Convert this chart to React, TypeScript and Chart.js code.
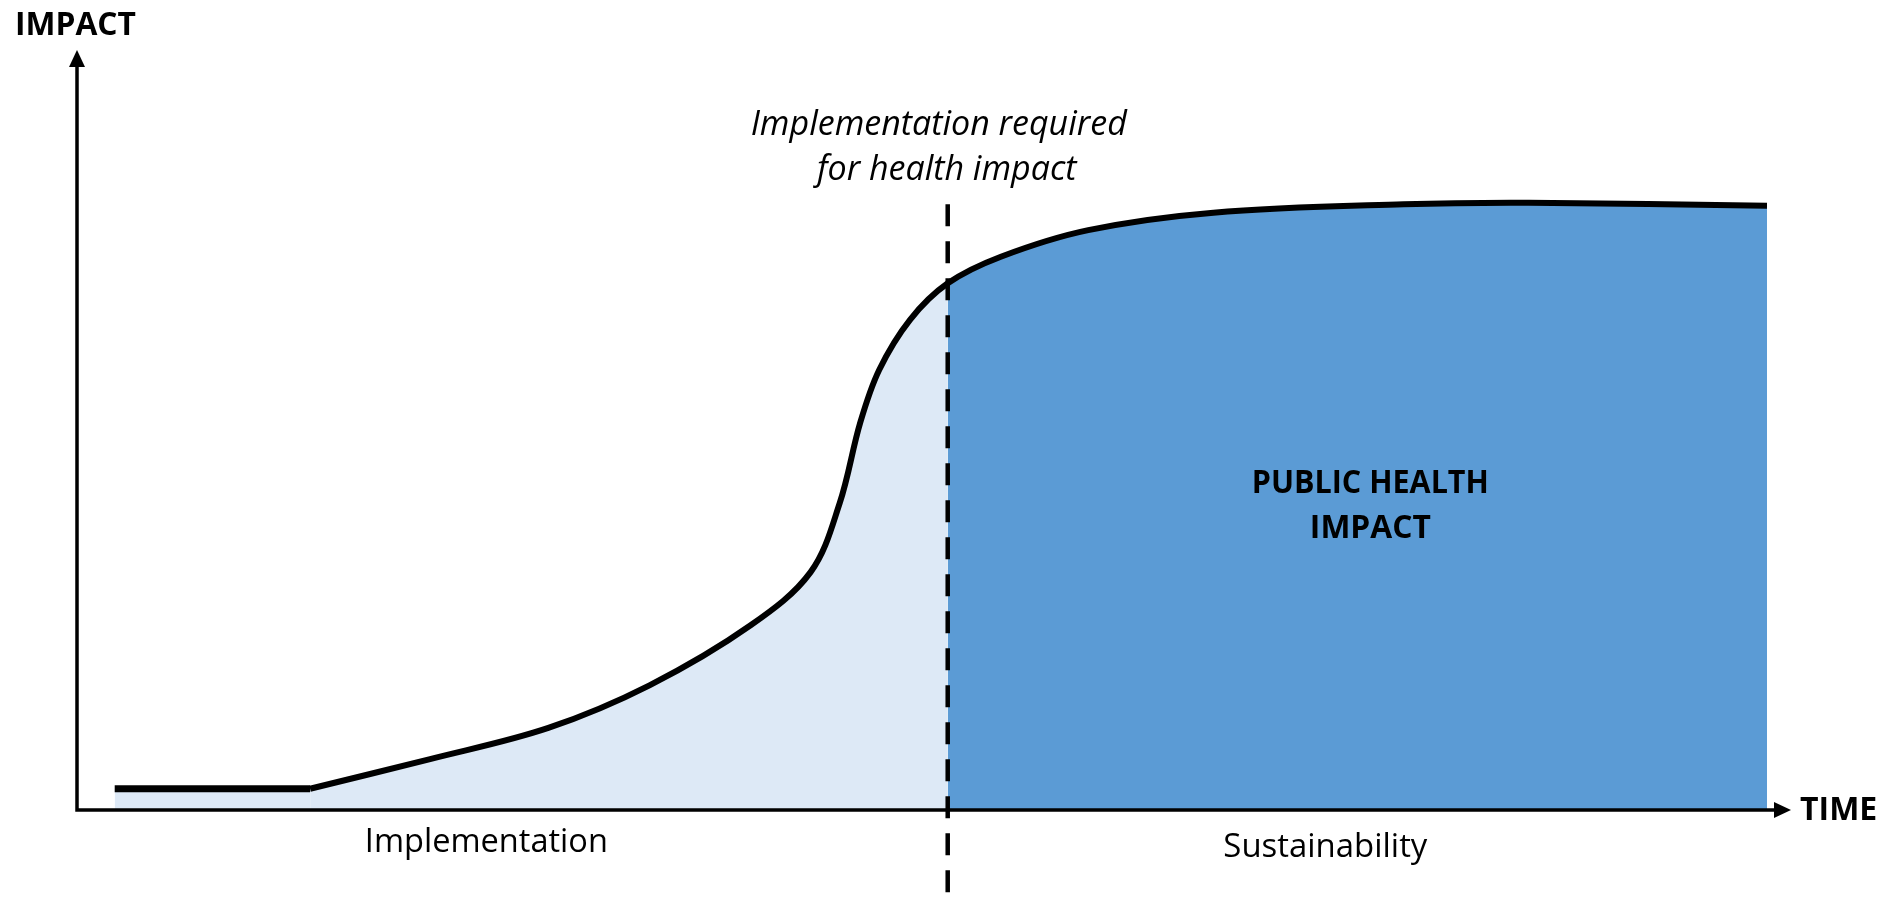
import React, { useEffect, useRef } from "react";
import { Chart, registerables } from "chart.js";

Chart.register(...registerables);

// Conceptual time axis (0-100) and impact axis (0-100)
const flatTime = [2.2, 13.6];
const flatImpact = [2.8, 2.8];

const curveTime = [13.6, 20.6, 27.5, 33.4, 39.3, 42.8, 44.5, 45.7, 46.8, 48.6, 50.8, 53.9, 59.0, 66.3, 77.4, 84.7, 98.6];
const curveImpact = [2.8, 6.7, 10.8, 16.4, 24.3, 31.3, 40.4, 51.0, 57.9, 64.5, 69.3, 72.8, 76.3, 78.6, 79.7, 79.9, 79.5];

const implementationEnd = 50.8; // time where sustainability begins
const dashedTop = 79.7; // impact value where dashed marker starts

const LIGHT = "#DDE9F6";
const DARK = "#5B9BD5";

const FONT = '"Open Sans", "DejaVu Sans", sans-serif';

export default function App() {
  const ref = useRef<HTMLCanvasElement | null>(null);

  useEffect(() => {
    document.body.style.margin = "0";
    const canvas = ref.current;
    if (!canvas) return;

    const overlay = {
      id: "overlay",
      beforeDatasetsDraw(chart: any) {
        const { ctx } = chart;
        const xs = chart.scales.x;
        const ys = chart.scales.y;
        const x = xs.getPixelForValue(implementationEnd);
        ctx.save();
        ctx.strokeStyle = "#000";
        ctx.lineWidth = 4.5;
        ctx.setLineDash([22, 15]);
        ctx.beginPath();
        ctx.moveTo(x, ys.getPixelForValue(dashedTop));
        ctx.lineTo(x, chart.height);
        ctx.stroke();
        ctx.restore();
      },
      afterDatasetsDraw(chart: any) {
        const { ctx, chartArea } = chart;
        const { left, right, top, bottom } = chartArea;
        const xs = chart.scales.x;
        ctx.save();
        // axes
        ctx.strokeStyle = "#000";
        ctx.fillStyle = "#000";
        ctx.lineWidth = 3.5;
        ctx.beginPath();
        ctx.moveTo(left, bottom + 1.75);
        ctx.lineTo(left, top + 14);
        ctx.moveTo(left - 1.75, bottom);
        ctx.lineTo(right - 14, bottom);
        ctx.stroke();
        // arrowheads
        ctx.beginPath();
        ctx.moveTo(left, top);
        ctx.lineTo(left - 8, top + 17);
        ctx.lineTo(left + 8, top + 17);
        ctx.closePath();
        ctx.fill();
        ctx.beginPath();
        ctx.moveTo(right, bottom);
        ctx.lineTo(right - 17, bottom - 8);
        ctx.lineTo(right - 17, bottom + 8);
        ctx.closePath();
        ctx.fill();

        // texts
        ctx.textBaseline = "alphabetic";
        ctx.fillStyle = "#000";

        ctx.font = `bold 32px ${FONT}`;
        ctx.textAlign = "left";
        ctx.fillText("IMPACT", 15, 35, 121);
        ctx.fillText("TIME", right + 9, bottom + 10, 78);

        const xm = xs.getPixelForValue(implementationEnd);
        ctx.font = `italic 34px ${FONT}`;
        ctx.textAlign = "center";
        ctx.fillText("Implementation required", xm - 9, 135, 380);
        ctx.fillText("for health impact", xm - 1, 180, 268);

        const sustCenter = (xm + xs.getPixelForValue(98.6)) / 2;
        ctx.font = `bold 32px ${FONT}`;
        ctx.fillText("PUBLIC HEALTH", sustCenter + 13, 493, 237);
        ctx.fillText("IMPACT", sustCenter + 13, 538, 121);

        ctx.font = `33px ${FONT}`;
        ctx.fillText("Implementation", (left + xm) / 2 - 26, bottom + 42, 243);
        ctx.fillText("Sustainability", sustCenter - 32, bottom + 47, 204);
        ctx.restore();
      },
    };

    const chart = new Chart(canvas, {
      type: "line",
      data: {
        datasets: [
          {
            label: "Implementation (flat)",
            data: flatTime.map((t, i) => ({ x: t, y: flatImpact[i] })),
            borderColor: "#000",
            borderWidth: 7,
            borderCapStyle: "butt",
            backgroundColor: LIGHT,
            fill: "origin",
            tension: 0,
            pointRadius: 0,
          },
          {
            label: "Impact",
            data: curveTime.map((t, i) => ({ x: t, y: curveImpact[i] })),
            borderColor: "#000",
            borderWidth: 6,
            borderCapStyle: "butt",
            borderJoinStyle: "round",
            backgroundColor: LIGHT,
            fill: "origin",
            tension: 0.35,
            pointRadius: 0,
            segment: {
              backgroundColor: (c: any) =>
                c.p0.parsed.x >= implementationEnd - 0.01 ? DARK : LIGHT,
            },
          } as any,
        ],
      },
      options: {
        responsive: false,
        animation: false,
        layout: { padding: { left: 77, right: 94, top: 50, bottom: 92 } },
        scales: {
          x: { type: "linear", min: 0, max: 100, display: false },
          y: { type: "linear", min: 0, max: 100, display: false },
        },
        plugins: {
          legend: { display: false },
          tooltip: { enabled: false },
          filler: { drawTime: "beforeDatasetsDraw" },
        } as any,
      },
      plugins: [overlay],
    });

    return () => chart.destroy();
  }, []);

  return (
    <div style={{ position: "absolute", left: 0, top: 0, width: 1885, height: 902, background: "#fff" }}>
      <canvas ref={ref} width={1885} height={902} style={{ display: "block" }} />
    </div>
  );
}
